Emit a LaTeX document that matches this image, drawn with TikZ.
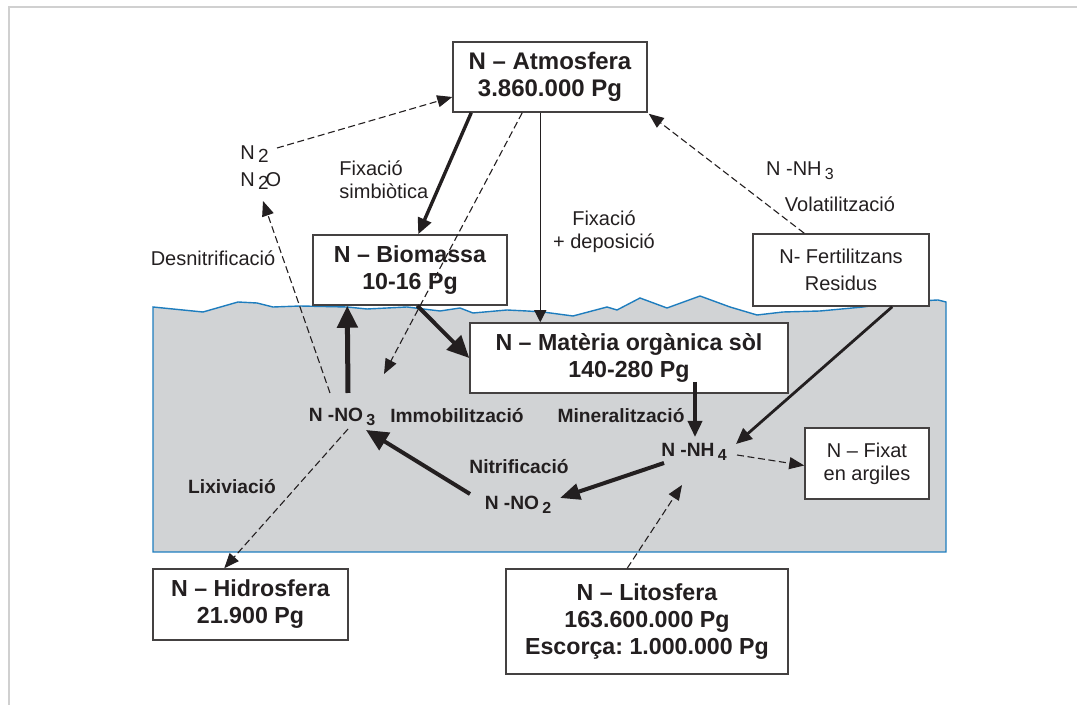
\documentclass[tikz,border=0pt]{standalone}
\usepackage{fontspec}
\setmainfont{Liberation Sans}
\usetikzlibrary{arrows.meta,positioning,calc}
\definecolor{soilgray}{RGB}{209,211,213}
\definecolor{soilblue}{RGB}{30,125,190}
\definecolor{ink}{RGB}{35,31,32}
\definecolor{framegray}{RGB}{208,208,208}
\frenchspacing
\newcommand{\subnum}[1]{\,\raisebox{-0.4ex}{\fontsize{8}{8}\selectfont #1}}
\newcommand{\gasidx}[1]{\raisebox{-0.3ex}{\fontsize{9.5}{9.5}\selectfont #1}}
\tikzset{
	pool/.style={draw=ink!85, line width=0.75pt, fill=white, align=center, inner sep=0pt, text=ink, font=\bfseries\fontsize{11.6}{13.5}\selectfont},
	minor/.style={draw=ink!85, line width=0.75pt, fill=white, align=center, inner sep=0pt, text=ink, font=\fontsize{10}{13.5}\selectfont},
	flux/.style={align=center, inner sep=1pt, text=ink, font=\fontsize{10}{11.5}\selectfont},
	soillbl/.style={inner sep=1pt, text=ink, font=\bfseries\fontsize{9.6}{11.5}\selectfont},
	heavy/.style={-{Triangle[length=11pt,width=10pt]}, line width=2.2pt, draw=ink},
	strong/.style={-{Triangle[length=8pt,width=7pt]}, line width=1.7pt, draw=ink},
	weak/.style={-{Triangle[length=7.5pt,width=6pt]}, line width=0.55pt, draw=ink, dash pattern=on 3.5pt off 1.8pt},
	plain/.style={-{Triangle[length=6pt,width=6pt]}, line width=0.6pt, draw=ink}
}
\begin{document}
\begin{tikzpicture}[x=0.5pt, y=-0.5pt]
	\useasboundingbox (0,0) rectangle (1077,705);
	\draw[framegray, line width=1pt] (1077,7) -- (9,7) -- (9,705);
	% soil
	\filldraw[fill=soilgray, draw=soilblue, line width=0.7pt]
		(153,307) -- (203,312) -- (238,302) -- (257,303) -- (273,307) -- (300,306) -- (347,307)
		-- (367,309) -- (407,307) -- (440,311) -- (460,308) -- (473,313) -- (507,310) -- (527,311)
		-- (543,312) -- (573,316) -- (607,307) -- (617,310) -- (640,298) -- (667,308) -- (700,296)
		-- (730,307) -- (757,315) -- (783,312) -- (820,311) -- (863,307) -- (897,302) -- (938,300)
		-- (946,302) -- (946,552) -- (153,552) -- cycle;
	% pools
	\node[pool, minimum width=97pt, minimum height=35pt, font=\bfseries\fontsize{12}{13.5}\selectfont] (atm) at (550,77) {N – Atmosfera\\3.860.000 Pg};
	\node[pool, minimum width=97pt, minimum height=35pt] (bio) at (410,270) {N – Biomassa\\10-16 Pg};
	\node[pool, minimum width=159pt, minimum height=35pt] (mat) at (629,358) {N – Matèria orgànica sòl\\140-280 Pg};
	\node[minor, minimum width=88pt, minimum height=36pt] (fert) at (841,270) {N- Fertilitzans\\Residus};
	\node[minor, minimum width=62pt, minimum height=35.5pt, font=\fontsize{10}{11.5}\selectfont] (fix) at (867,463.5) {N – Fixat\\en argiles};
	\node[pool, minimum width=97.5pt, minimum height=35.5pt] (hid) at (250.5,604.5) {N – Hidrosfera\\21.900 Pg};
	\node[pool, minimum width=141pt, minimum height=52.5pt] (lit) at (647,621.5) {N – Litosfera\\163.600.000 Pg\\Escorça: 1.000.000 Pg};
	% forms and fluxes
	\node[flux, anchor=west] (n2) at (238,154) {N\,\gasidx{2}};
	\node[flux, anchor=west] (n2o) at (238,181) {N\,\gasidx{2}\kern-1.5pt O};
	\node[flux, align=left, anchor=west] (fixsim) at (337,180) {Fixació\\simbiòtica};
	\node[flux] (desnit) at (213,258) {Desnitrificació};
	\node[flux] (fixdep) at (604,232) {Fixació\\+ deposició};
	\node[flux] (nh3) at (800,171) {N -NH\subnum{3}};
	\node[flux] (volat) at (840,204) {Volatilització};
	\node[soillbl] (no3) at (342,417) {N -NO\subnum{3}};
	\node[soillbl] (immob) at (457,416) {Immobilització};
	\node[soillbl] (minera) at (621,416) {Mineralització};
	\node[soillbl] (nh4) at (694,452) {N -NH\subnum{4}};
	\node[soillbl] (nitrif) at (519,467) {Nitrificació};
	\node[soillbl] (no2) at (518,505) {N -NO\subnum{2}};
	\node[soillbl] (lixiv) at (232,487) {Lixiviació};
	% connector ends
	\coordinate (n2out) at (277,148);
	\coordinate (n2in) at (263,201);
	\coordinate (no3up) at (348,393);
	\coordinate (no3dn) at (330,393);
	\coordinate (no3in) at (384,374);
	\coordinate (no3lx) at (348,429);
	\coordinate (no3nt) at (366,430);
	\coordinate (no2out) at (470,494);
	\coordinate (no2in) at (560,498);
	\coordinate (matmin) at (695,382);
	\coordinate (nh4in) at (695,437);
	\coordinate (nh4ft) at (736,444);
	\coordinate (nh4out) at (664,463);
	\coordinate (nh4fx) at (737,455);
	\coordinate (nh4lt) at (682,485);
	% flows
	\draw[strong] ($(atm.south west)+(19,0)$) -- ($(bio.north west)+(106,0)$);
	\draw[plain] ($(atm.south west)+(88,0)$) -- ($(mat.north west)+(71,0)$);
	\draw[weak] ($(atm.south west)+(70,0)$) -- (no3in);
	\draw[weak] (n2out) -- ($(atm.west)+(0,20)$);
	\draw[weak] (no3dn) -- (n2in);
	\draw[weak] ($(fert.north west)+(52,0)$) -- ($(atm.south east)+(1,1)$);
	\draw[strong, line width=1.4pt] ($(fert.south west)+(140,0)$) -- (nh4ft);
	\draw[heavy, line width=2pt] ($(bio.south west)+(105,0)$) -- (mat.west);
	\draw[heavy, line width=2.5pt] (no3up) -- ($(bio.south west)+(35,0)$);
	\draw[strong, line width=1.8pt] (matmin) -- (nh4in);
	\draw[strong, line width=2pt, -{Triangle[length=10pt,width=8pt]}] (nh4out) -- (no2in);
	\draw[heavy, line width=2pt] (no2out) -- (no3nt);
	\draw[weak] (nh4fx) -- ($(fix.west)+(0,2)$);
	\draw[weak] ($(lit.north west)+(122,0)$) -- (nh4lt);
	\draw[weak] (no3lx) -- ($(hid.north west)+(72,0)$);
\end{tikzpicture}
\end{document}
